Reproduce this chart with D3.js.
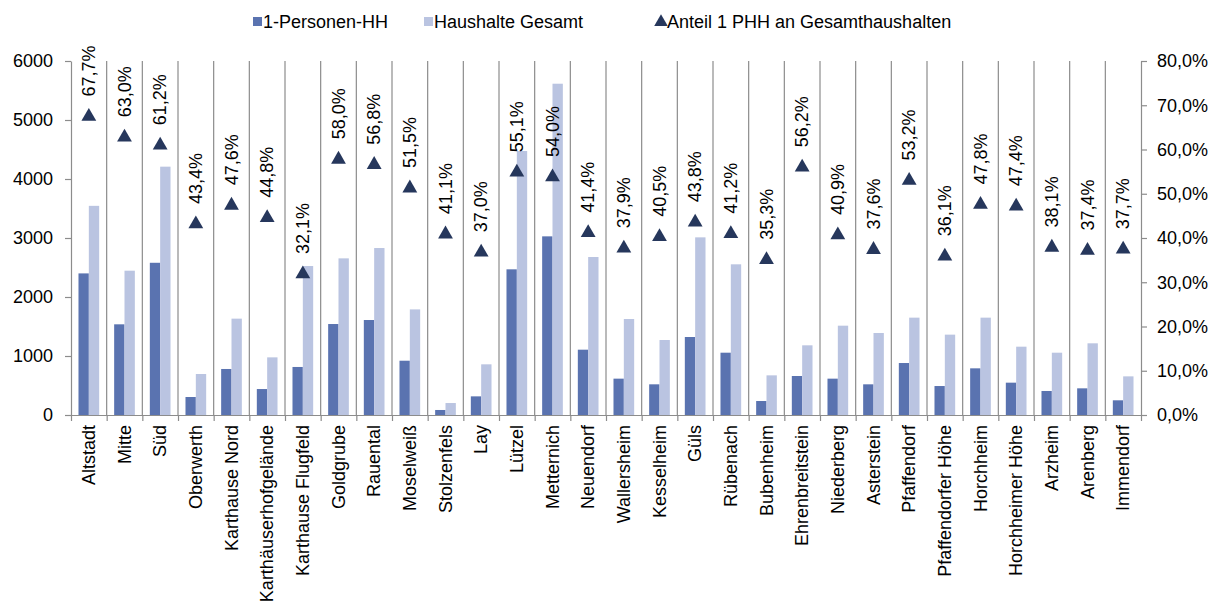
<!DOCTYPE html>
<html>
<head>
<meta charset="utf-8">
<script src="https://cdn.jsdelivr.net/npm/d3@7"></script>
<style>
  body { margin: 0; background: #fff; }
  text { font-family: "Liberation Sans", Arial, sans-serif; fill: #000; }
</style>
</head>
<body>
<div id="svg-container"></div>
<script>
// Stadtteile
const districts = ["Altstadt", "Mitte", "Süd", "Oberwerth", "Karthause Nord", "Karthäuserhofgelände",
  "Karthause Flugfeld", "Goldgrube", "Rauental", "Moselweiß", "Stolzenfels", "Lay", "Lützel",
  "Metternich", "Neuendorf", "Wallersheim", "Kesselheim", "Güls", "Rübenach", "Bubenheim",
  "Ehrenbreitstein", "Niederberg", "Asterstein", "Pfaffendorf", "Pfaffendorfer Höhe", "Horchheim",
  "Horchheimer Höhe", "Arzheim", "Arenberg", "Immendorf"];

// 1-Personen-HH
const singleHH = [2400, 1537, 2580, 305, 780, 440, 814, 1542, 1610, 920, 85, 316, 2469,
  3028, 1107, 616, 520, 1322, 1056, 237, 661, 616, 520, 881, 491, 791, 548, 407, 452, 249];

// Haushalte Gesamt
const totalHH = [3545, 2446, 4209, 695, 1633, 977, 2525, 2655, 2830, 1790, 203, 859, 4475,
  5615, 2678, 1627, 1271, 3011, 2554, 672, 1181, 1514, 1390, 1650, 1362, 1650, 1158, 1056, 1215, 655];

// Anteil 1 PHH an Gesamthaushalten (%)
const shares = [67.7, 63.0, 61.2, 43.4, 47.6, 44.8, 32.1, 58.0, 56.8, 51.5, 41.1, 37.0, 55.1,
  54.0, 41.4, 37.9, 40.5, 43.8, 41.2, 35.3, 56.2, 40.9, 37.6, 53.2, 36.1, 47.8, 47.4, 38.1, 37.4, 37.7];

const leftTicks = [0, 1000, 2000, 3000, 4000, 5000, 6000];
const rightTicks = [0, 10, 20, 30, 40, 50, 60, 70, 80];
const seriesNames = ["1-Personen-HH", "Haushalte Gesamt", "Anteil 1 PHH an Gesamthaushalten"];

const width = 1211;
const height = 608;
const margin = { top: 61, bottom: 193, left: 71, right: 70 };
const innerWidth = width - margin.left - margin.right;
const innerHeight = height - margin.top - margin.bottom;

const darkBlue = "#5a73b0";
const lightBlue = "#bac4e1";
const navy = "#26375c";
const axisGrey = "#8c8c8c";

const svg = d3.select("#svg-container")
  .append("svg")
  .attr("width", width)
  .attr("height", height);

const g = svg.append("g").attr("transform", `translate(${margin.left},${margin.top})`);

// scales
const x0 = d3.scaleBand().domain(districts).range([0, innerWidth]);
const xIdx = d3.scaleLinear().domain([0, districts.length]).range([0, innerWidth]);
const bw = x0.bandwidth();
const x1 = d3.scaleBand().domain(["single", "total"]).range([bw * 0.21, bw * 0.79]);
const yL = d3.scaleLinear().domain([0, 6000]).range([innerHeight, 0]);
const yR = d3.scaleLinear().domain([0, 80]).range([innerHeight, 0]);

const fmtPct = d => d.toFixed(1).replace(".", ",") + "%";

// vertical separators between categories
g.append("g")
  .selectAll("line")
  .data(d3.range(1, districts.length))
  .enter()
  .append("line")
  .attr("x1", d => xIdx(d)).attr("x2", d => xIdx(d))
  .attr("y1", 0).attr("y2", innerHeight)
  .attr("stroke", axisGrey)
  .attr("stroke-width", 1.2);

// bottom axis with ticks at category boundaries
const xAxis = g.append("g")
  .attr("transform", `translate(0,${innerHeight})`)
  .call(d3.axisBottom(xIdx).tickValues(d3.range(0, districts.length + 1)).tickSize(6).tickSizeOuter(0).tickFormat(""));
xAxis.selectAll("path, line").attr("stroke", axisGrey).attr("stroke-width", 1.2);

// left axis
const leftAxis = g.append("g")
  .call(d3.axisLeft(yL).tickValues(leftTicks).tickSize(6).tickSizeOuter(0).tickPadding(12).tickFormat(d3.format("d")));
leftAxis.selectAll("path, line").attr("stroke", axisGrey).attr("stroke-width", 1.2);
leftAxis.selectAll("text").style("font-size", "18px").attr("fill", "#000");

// right axis
const rightAxis = g.append("g")
  .attr("transform", `translate(${innerWidth},0)`)
  .call(d3.axisRight(yR).tickValues(rightTicks).tickSize(6).tickSizeOuter(0).tickPadding(10).tickFormat(fmtPct));
rightAxis.selectAll("path, line").attr("stroke", axisGrey).attr("stroke-width", 1.2);
rightAxis.selectAll("text").style("font-size", "18px").attr("fill", "#000");

// bars
const groups = g.append("g")
  .selectAll("g")
  .data(districts)
  .enter()
  .append("g")
  .attr("transform", d => `translate(${x0(d)},0)`);

groups.append("rect")
  .attr("x", x1("single"))
  .attr("width", x1.bandwidth())
  .attr("y", (d, i) => yL(singleHH[i]))
  .attr("height", (d, i) => innerHeight - yL(singleHH[i]))
  .attr("fill", darkBlue);

groups.append("rect")
  .attr("x", x1("total"))
  .attr("width", x1.bandwidth())
  .attr("y", (d, i) => yL(totalHH[i]))
  .attr("height", (d, i) => innerHeight - yL(totalHH[i]))
  .attr("fill", lightBlue);

// triangles + labels
const tri = d3.symbol().type(d3.symbolTriangle).size(95);
const cx = d => x0(d) + bw / 2;

g.append("g")
  .selectAll("path")
  .data(districts)
  .enter()
  .append("path")
  .attr("d", tri)
  .attr("transform", (d, i) => `translate(${cx(d)},${yR(shares[i]) + 1})`)
  .attr("fill", navy);

g.append("g")
  .selectAll("text")
  .data(districts)
  .enter()
  .append("text")
  .attr("transform", (d, i) => `translate(${cx(d)},${yR(shares[i]) - 19}) rotate(-90)`)
  .attr("dy", "0.35em")
  .style("font-size", "18px")
  .text((d, i) => fmtPct(shares[i]));

// category labels
g.append("g")
  .selectAll("text")
  .data(districts)
  .enter()
  .append("text")
  .attr("transform", d => `translate(${cx(d)},${innerHeight + 10}) rotate(-90)`)
  .attr("dy", "0.35em")
  .attr("text-anchor", "end")
  .style("font-size", "18px")
  .text(d => d);

// legend
const legend = svg.append("g");
const legendX = [253, 424, 656];
legend.append("rect").attr("x", legendX[0]).attr("y", 17).attr("width", 9).attr("height", 9).attr("fill", darkBlue);
legend.append("rect").attr("x", legendX[1]).attr("y", 17).attr("width", 9).attr("height", 9).attr("fill", lightBlue);
legend.append("path")
  .attr("d", d3.symbol().type(d3.symbolTriangle).size(80))
  .attr("transform", `translate(${legendX[2] + 5},${22})`)
  .attr("fill", navy);
legend.selectAll("text")
  .data(seriesNames)
  .enter()
  .append("text")
  .attr("x", (d, i) => legendX[i] + (i == 2 ? 11 : 10))
  .attr("y", 22)
  .attr("dy", "0.35em")
  .style("font-size", "18px")
  .text(d => d);
</script>
</body>
</html>
